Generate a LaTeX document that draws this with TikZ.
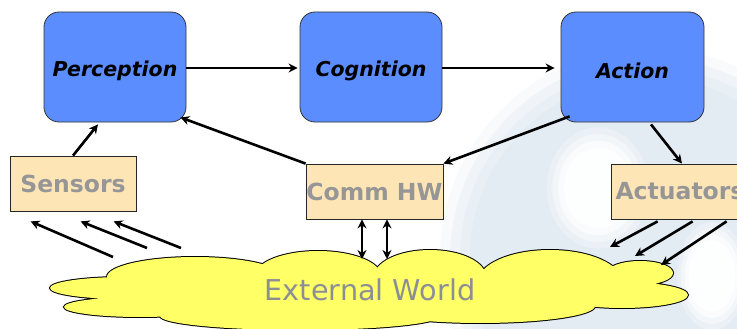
\documentclass[tikz,border=0pt]{standalone}
\usepackage{fontspec}
\setmainfont{DejaVu Sans}
\usetikzlibrary{arrows.meta,calc}
\definecolor{boxblue}{RGB}{92,141,255}
\definecolor{peach}{RGB}{254,229,182}
\definecolor{labgray}{RGB}{150,150,150}
\definecolor{worldgray}{RGB}{140,142,150}
\definecolor{cloudyellow}{RGB}{255,255,102}
\definecolor{wmblue}{RGB}{224,233,242}
\tikzset{
  stagebox/.style={draw=black!80,line width=0.8pt,fill=boxblue,rounded corners=15pt,
    minimum width=142pt,minimum height=110pt,inner sep=0pt,
    text height=19pt,text depth=0pt,
    font=\fontsize{20.5}{24}\selectfont\bfseries\itshape},
  hwbox/.style={draw=black!85,line width=0.8pt,fill=peach,minimum height=55pt,inner sep=0pt,
    text=labgray,font=\fontsize{23.5}{28}\selectfont\bfseries},
  arr/.style={line width=2.6pt,-{Stealth[length=9pt,width=9pt]}},
  darr/.style={line width=2.6pt,{Stealth[length=9pt,width=9pt]}-{Stealth[length=9pt,width=9pt]}},
}
\begin{document}
\begin{tikzpicture}[x=1pt,y=-1pt]
\useasboundingbox (0,0) rectangle (737,329);
\fill[white] (0,0) rectangle (737,329);
% faint watermark background
\foreach \r/\o in {210/0.2,200/0.3,190/0.45,180/0.6}{
  \fill[wmblue,opacity=\o] (650,258) circle[radius=\r];
}
\foreach \s/\o in {1.35/0.25,1.2/0.4,1.05/0.6,0.9/0.8}{
  \fill[white,opacity=\o] (598,188) ellipse[x radius={38*\s},y radius={45*\s}];
  \fill[white,opacity=\o] (712,276) ellipse[x radius={26*\s},y radius={40*\s}];
}
% cloud
\def\cloudshape{
  (125,288) ellipse[x radius=75,y radius=11]
  (140,307) ellipse[x radius=76,y radius=10]
  (195,277) ellipse[x radius=88,y radius=20]
  (200,298) ellipse[x radius=60,y radius=12]
  (318,276) ellipse[x radius=63,y radius=25]
  (430,277) ellipse[x radius=56,y radius=27]
  (550,282) ellipse[x radius=72,y radius=32]
  (640,273) ellipse[x radius=33,y radius=12]
  (622,295) ellipse[x radius=66,y radius=13]
  (480,306) ellipse[x radius=115,y radius=17]
  (300,316) ellipse[x radius=140,y radius=14]
  (300,292) ellipse[x radius=110,y radius=25]
}
\draw[line width=2pt,black] \cloudshape;
\fill[cloudyellow] \cloudshape;
\node[text=worldgray,font=\fontsize{28.7}{32}\selectfont] (world) at (370,290) {External World};
% boxes
\node[stagebox] (perc) at (115,67) {Perception};
\node[stagebox] (cog) at (371,67) {Cognition};
\node[stagebox,minimum width=143pt,text height=23pt] (act) at (632.5,67) {Action};
\node[hwbox,minimum width=126pt] (sens) at (73,183.5) {Sensors};
\node[hwbox,minimum width=137pt] (comm) at (374.5,191.5) {Comm HW};
\node[hwbox,minimum width=138pt] (actu) at (680,191.5) {Actuators};
% coordinates on the cloud side
\coordinate (s1) at (113,257);
\coordinate (s2) at (147,248);
\coordinate (s3) at (181,248);
\coordinate (a1) at (610,247);
\coordinate (a2) at (635,256);
\coordinate (a3) at (661,265);
\coordinate (w1) at (362,259);
\coordinate (w2) at (387,259);
% connectors
\draw[arr] ($(perc.east)+(0,1)$) -- ($(cog.west)+(-2,1)$);
\draw[arr] ($(cog.east)+(0,1)$) -- ($(act.west)+(-6,1)$);
\draw[arr] (sens.north) -- ($(perc.south)+(-17,2)$);
\draw[arr] (comm.north west) -- ($(perc.south east)+(-6,-5)$);
\draw[arr] ($(act.south west)+(9,-6)$) -- (comm.north east);
\draw[arr] ($(act.south)+(18.5,2)$) -- ($(actu.north)+(2,0)$);
\draw[darr] ($(comm.south)+(-12.5,0)$) -- (w1);
\draw[darr] ($(comm.south)+(12.5,0)$) -- (w2);
\draw[arr] (s1) -- ($(sens.south west)+(21,10)$);
\draw[arr] (s2) -- ($(sens.south west)+(71,10)$);
\draw[arr] (s3) -- ($(sens.south west)+(104,10)$);
\draw[arr] ($(actu.south west)+(47,2)$) -- (a1);
\draw[arr] ($(actu.south west)+(82,2)$) -- (a2);
\draw[arr] ($(actu.south west)+(116,2)$) -- (a3);
\end{tikzpicture}
\end{document}
